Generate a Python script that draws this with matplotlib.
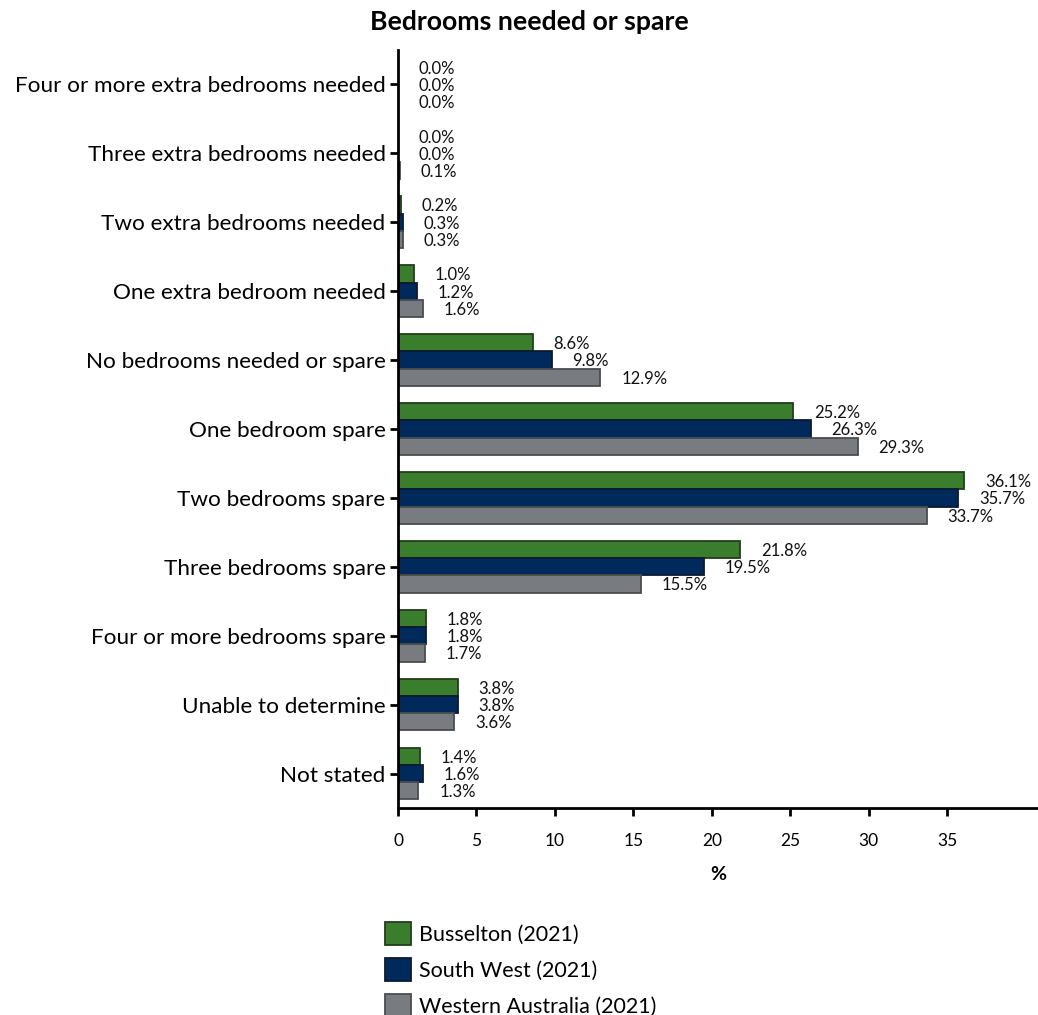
import matplotlib
matplotlib.use("Agg")
import matplotlib.pyplot as plt
import numpy as np
from matplotlib.patches import Patch

categories = ["Four or more extra bedrooms needed", "Three extra bedrooms needed",
              "Two extra bedrooms needed", "One extra bedroom needed",
              "No bedrooms needed or spare", "One bedroom spare", "Two bedrooms spare",
              "Three bedrooms spare", "Four or more bedrooms spare",
              "Unable to determine", "Not stated"]
busselton = [0.0, 0.0, 0.2, 1.0, 8.6, 25.2, 36.1, 21.8, 1.8, 3.8, 1.4]
south_west = [0.0, 0.0, 0.3, 1.2, 9.8, 26.3, 35.7, 19.5, 1.8, 3.8, 1.6]
western_australia = [0.0, 0.1, 0.3, 1.6, 12.9, 29.3, 33.7, 15.5, 1.7, 3.6, 1.3]
series_names = ["Busselton (2021)", "South West (2021)", "Western Australia (2021)"]
x_ticks = [0, 5, 10, 15, 20, 25, 30, 35]

plt.rcParams['font.family'] = ['Lato', 'DejaVu Sans']

fig = plt.figure(figsize=(10.38, 10.15), dpi=100)
ax = fig.add_axes([398/1038, 1-808/1015, (1038-398)/1038, (808-50)/1015])

colors = ["#3a7d2c", "#002a5c", "#787c80"]
edges = ["#223f1a", "#0d1a30", "#4a4d50"]
data = [busselton, south_west, western_australia]
y = np.arange(len(categories))
h = 0.25
offsets = [-h, 0, h]
for d, c, e, off in zip(data, colors, edges, offsets):
    ax.barh(y + off, d, height=h, color=c, edgecolor=e, linewidth=1.3)
    for yy, v in zip(y + off, d):
        ax.annotate(f"{v:.1f}%", xy=(v, yy), xytext=(15, -1), textcoords="offset points",
                    ha="left", va="center", fontsize=12, color="#111111")

ax.set_ylim(len(categories) - 0.5, -0.5)
ax.set_xlim(0, 40.8)
ax.set_yticks(y)
ax.set_yticklabels(categories, fontsize=16.2)
ax.set_xticks(x_ticks)
ax.set_xticklabels([str(t) for t in x_ticks], fontsize=12.5)
ax.tick_params(axis='y', length=6, width=2, pad=3)
ax.tick_params(axis='x', length=6, width=2, pad=12)
for s in ["top", "right"]:
    ax.spines[s].set_visible(False)
for s in ["left", "bottom"]:
    ax.spines[s].set_linewidth(2)
ax.set_xlabel("%", fontsize=14, fontweight="bold", labelpad=12)

fig.text(529/1038, 1-22/1015, "Bedrooms needed or spare", ha="center", va="center",
         fontsize=19.2, fontweight="bold")

handles = [Patch(facecolor=c, edgecolor=e, linewidth=1.3) for c, e in zip(colors, edges)]
fig.legend(handles, series_names, loc="upper left", bbox_to_anchor=(366/1038, 1-903/1015),
           frameon=False, fontsize=15.5, handlelength=1.2, handleheight=1.25,
           handletextpad=0.35, labelspacing=0.6)

fig.savefig("out.png", dpi=100)
